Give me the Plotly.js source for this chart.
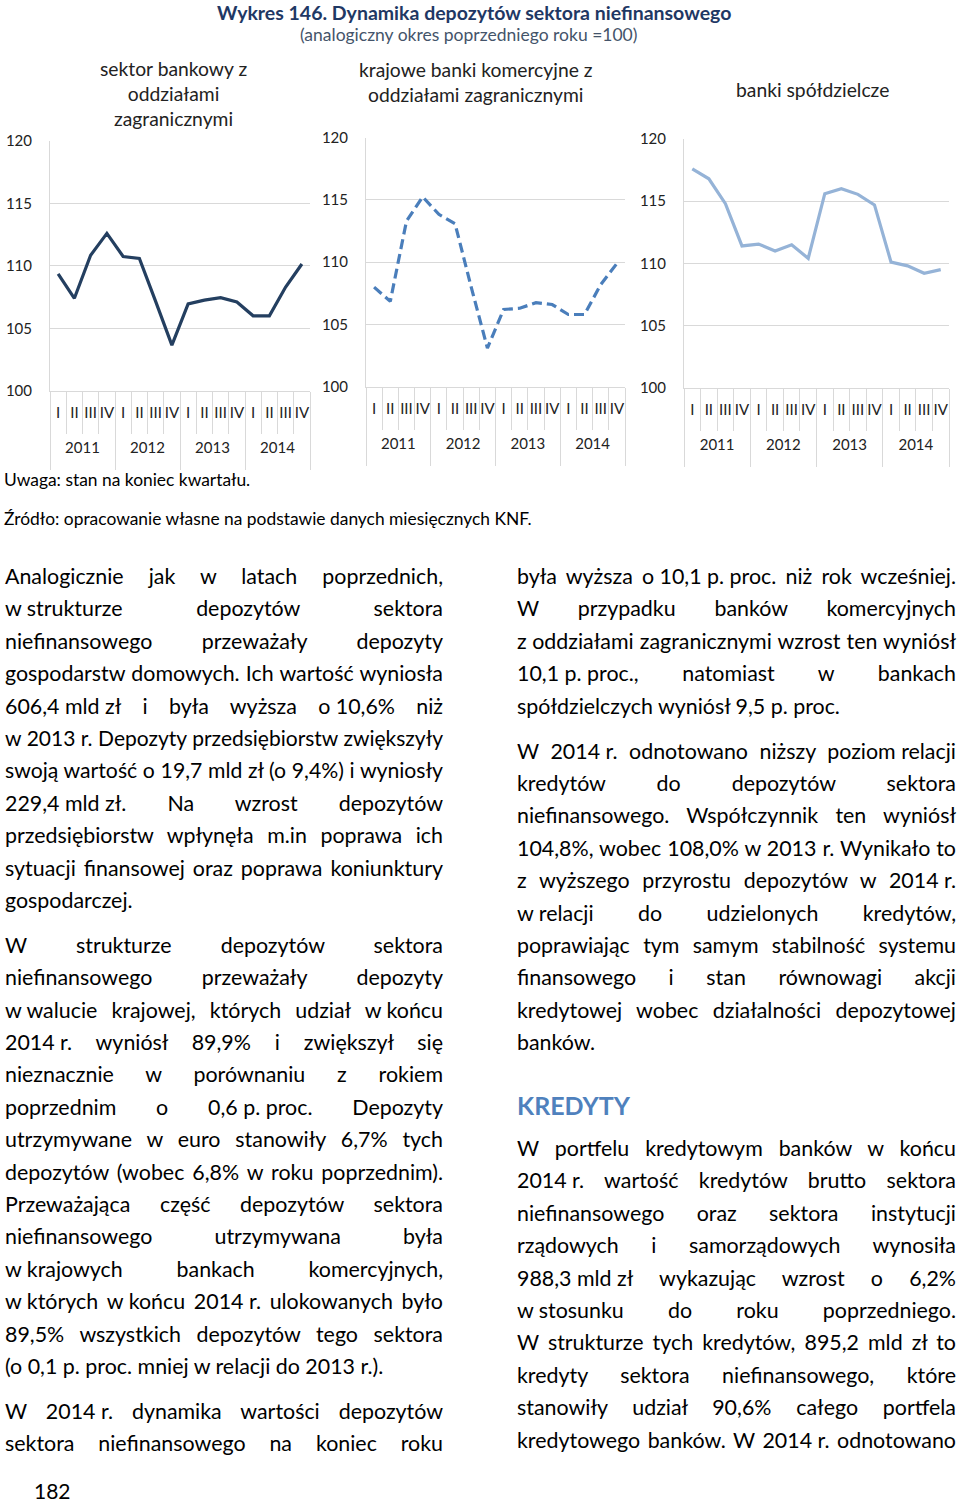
<!DOCTYPE html>
<html><head><meta charset="utf-8">
<script src="https://cdn.plot.ly/plotly-3.0.1.min.js"></script>
<style>
html,body{margin:0;padding:0;background:#fff}
body{width:960px;height:1501px;position:relative;overflow:hidden;font-family:Lato,"Open Sans",sans-serif;color:#000}
#chart{position:absolute;left:0;top:0;width:960px;height:540px}
.col{position:absolute;font-size:21.4px;line-height:32.4px}
.col div{text-align:justify;text-align-last:justify;height:32.4px}
.col div.e{text-align:left;text-align-last:left}
.nb{display:inline-block;white-space:nowrap}
.gap{margin-top:12.6px}
#kred{position:absolute;left:517px;top:1088px;font-size:25px;font-weight:bold;color:#4F81BD;line-height:34px}
#page{position:absolute;left:34px;top:1476px;font-size:21px;line-height:30px}
</style>
</head><body>
<div id="chart"></div>

<div class="col" style="left:5px;top:560px;width:438px">
<div>Analogicznie jak w latach poprzednich,</div>
<div><span class="nb">w strukturze</span> depozytów sektora</div>
<div>niefinansowego przeważały depozyty</div>
<div>gospodarstw domowych. Ich wartość wyniosła</div>
<div><span class="nb">606,4 mld zł</span> i była wyższa <span class="nb">o 10,6%</span> niż</div>
<div>w <span class="nb">2013 r.</span> Depozyty przedsiębiorstw zwiększyły</div>
<div>swoją wartość o 19,7 mld zł (o 9,4%) i wyniosły</div>
<div><span class="nb">229,4 mld zł.</span> Na wzrost depozytów</div>
<div>przedsiębiorstw wpłynęła m.in poprawa ich</div>
<div>sytuacji finansowej oraz poprawa koniunktury</div>
<div class="e">gospodarczej.</div>
<div class="gap">W strukturze depozytów sektora</div>
<div>niefinansowego przeważały depozyty</div>
<div><span class="nb">w walucie</span> krajowej, których udział <span class="nb">w końcu</span></div>
<div><span class="nb">2014 r.</span> wyniósł 89,9% i zwiększył się</div>
<div>nieznacznie w porównaniu z rokiem</div>
<div>poprzednim o <span class="nb">0,6 p. proc.</span> Depozyty</div>
<div>utrzymywane w euro stanowiły 6,7% tych</div>
<div>depozytów (wobec 6,8% w roku poprzednim).</div>
<div>Przeważająca część depozytów sektora</div>
<div>niefinansowego utrzymywana była</div>
<div><span class="nb">w krajowych</span> bankach komercyjnych,</div>
<div><span class="nb">w których</span> <span class="nb">w końcu</span> <span class="nb">2014 r.</span> ulokowanych było</div>
<div>89,5% wszystkich depozytów tego sektora</div>
<div class="e">(o 0,1 p. proc. mniej w relacji do 2013 r.).</div>
<div class="gap">W <span class="nb">2014 r.</span> dynamika wartości depozytów</div>
<div>sektora niefinansowego na koniec roku</div>
</div>

<div class="col" style="left:517px;top:560px;width:439px">
<div>była wyższa <span class="nb">o 10,1 p. proc.</span> niż rok wcześniej.</div>
<div>W przypadku banków komercyjnych</div>
<div><span class="nb">z oddziałami</span> zagranicznymi wzrost ten wyniósł</div>
<div><span class="nb">10,1 p. proc.,</span> natomiast w bankach</div>
<div class="e">spółdzielczych wyniósł 9,5 p. proc.</div>
<div class="gap">W <span class="nb">2014 r.</span> odnotowano niższy <span class="nb">poziom relacji</span></div>
<div>kredytów do depozytów sektora</div>
<div>niefinansowego. Współczynnik ten wyniósł</div>
<div>104,8%, wobec 108,0% w 2013 r. Wynikało to</div>
<div>z wyższego przyrostu depozytów w <span class="nb">2014 r.</span></div>
<div><span class="nb">w relacji</span> do udzielonych kredytów,</div>
<div>poprawiając tym samym stabilność systemu</div>
<div>finansowego i stan równowagi akcji</div>
<div>kredytowej wobec działalności depozytowej</div>
<div class="e">banków.</div>
</div>

<div id="kred">KREDYTY</div>

<div class="col" style="left:517px;top:1132px;width:439px">
<div>W portfelu kredytowym banków w końcu</div>
<div><span class="nb">2014 r.</span> wartość kredytów brutto sektora</div>
<div>niefinansowego oraz sektora instytucji</div>
<div>rządowych i samorządowych wynosiła</div>
<div><span class="nb">988,3 mld zł</span> wykazując wzrost o 6,2%</div>
<div><span class="nb">w stosunku</span> do roku poprzedniego.</div>
<div>W strukturze tych kredytów, 895,2 mld zł to</div>
<div>kredyty sektora niefinansowego, które</div>
<div>stanowiły udział 90,6% całego portfela</div>
<div>kredytowego banków. W <span class="nb">2014 r.</span> odnotowano</div>
</div>

<div id="page">182</div>

<script>
// ---- data ----
const years = ['2011', '2012', '2013', '2014'];
const quarters = ['I', 'II', 'III', 'IV'];
const sektorBankowy = [109.35, 107.4, 110.85, 112.6, 110.75, 110.6, 107.15, 103.65, 106.95, 107.25, 107.45, 107.1, 106.0, 106.0, 108.3, 110.15];
const krajoweBankiKomercyjne = [108.0, 106.85, 113.3, 115.25, 113.85, 113.1, 108.0, 103.1, 106.2, 106.3, 106.75, 106.6, 105.8, 105.8, 108.2, 109.9];
const bankiSpoldzielcze = [117.6, 116.8, 114.8, 111.4, 111.55, 111.0, 111.5, 110.4, 115.6, 116.0, 115.55, 114.7, 110.1, 109.8, 109.2, 109.5];
const panelTitles = ['sektor bankowy z<br>oddziałami<br>zagranicznymi', 'krajowe banki komercyjne z<br>oddziałami zagranicznymi', 'banki spółdzielcze'];
const yTicks = [100, 105, 110, 115, 120];

// ---- build ----
const W = 960, H = 540;
const px = v => v / W;
const py = v => 1 - v / H;

const quarterText = [], idx = [];
years.forEach((y, yi) => quarters.forEach((q, qi) => { quarterText.push(q); idx.push(yi * quarters.length + qi); }));
const nQ = quarters.length;
const sepVals = idx.slice(0, -1).map(i => i + 0.5);
const divVals = [-0.5].concat(years.map((y, yi) => (yi + 1) * nQ - 0.5));
const yearVals = years.map((y, yi) => yi * nQ + (nQ - 1) / 2);
const xRange = [-0.5, idx.length - 0.5];

const FONT = 'Lato, "Open Sans", sans-serif';
const grid = '#D9D9D9';
const tickFont = {family: FONT, size: 15, color: '#222'};

const panels = [
  {vals: sektorBankowy, color: '#243F60', dash: 'solid', xd: [50, 310], yd: [141, 390.7], title: panelTitles[0], tx: 173, ty: 94},
  {vals: krajoweBankiKomercyjne, color: '#4A7EBB', dash: '10px,5px', xd: [366, 625], yd: [137.7, 386.7], title: panelTitles[1], tx: 476, ty: 82},
  {vals: bankiSpoldzielcze, color: '#95B3D7', dash: 'solid', xd: [684, 949], yd: [139, 387.7], title: panelTitles[2], tx: 812, ty: 90}
];

const traces = [];
const layout = {
  width: W, height: H,
  margin: {l: 0, r: 0, t: 0, b: 0},
  paper_bgcolor: '#fff', plot_bgcolor: '#fff',
  showlegend: false,
  font: {family: FONT, size: 15, color: '#222'},
  annotations: []
};

let extra = 4;
function overlayAxis(xid, yid, spec) {
  const id = extra++;
  layout['xaxis' + id] = Object.assign({anchor: yid, overlaying: xid, side: 'bottom', showline: false,
    showgrid: false, zeroline: false, fixedrange: true, range: xRange}, spec);
  // empty carrier trace so that the overlay axis is drawn
  traces.push({type: 'scatter', mode: 'lines', x: [], y: [], xaxis: 'x' + id, yaxis: yid, hoverinfo: 'skip', showlegend: false});
}

panels.forEach((p, i) => {
  const n = i === 0 ? '' : String(i + 1);
  const xid = 'x' + n, yid = 'y' + n;
  traces.push({
    type: 'scatter', mode: 'lines',
    x: idx, y: p.vals,
    xaxis: xid, yaxis: yid,
    line: {color: p.color, width: 3.2, dash: p.dash},
    hoverinfo: 'skip'
  });
  const xDom = [px(p.xd[0]), px(p.xd[1])];
  const yDom = [py(p.yd[1]), py(p.yd[0])];
  layout['xaxis' + n] = {
    domain: xDom, range: xRange, fixedrange: true, showgrid: false, zeroline: false,
    anchor: yid, tickmode: 'array', tickvals: idx, ticktext: quarterText, tickangle: 0,
    showline: true, linecolor: grid, linewidth: 1, ticks: '',
    tickfont: tickFont, ticklabelstandoff: 8
  };
  overlayAxis(xid, yid, {domain: xDom, tickmode: 'array', tickvals: sepVals, showticklabels: false,
    ticks: 'outside', ticklen: 42, tickwidth: 1, tickcolor: grid});
  overlayAxis(xid, yid, {domain: xDom, tickmode: 'array', tickvals: divVals, showticklabels: false,
    ticks: 'outside', ticklen: 78, tickwidth: 1, tickcolor: grid});
  overlayAxis(xid, yid, {domain: xDom, tickmode: 'array', tickvals: yearVals, ticktext: years, tickangle: 0,
    ticks: '', tickfont: tickFont, ticklabelstandoff: 46});
  layout['yaxis' + n] = {
    domain: yDom, anchor: xid, range: [100, 120],
    tickmode: 'array', tickvals: yTicks, ticktext: yTicks.map(String),
    showline: true, linecolor: grid, linewidth: 1,
    showgrid: true, gridcolor: grid, gridwidth: 1, zeroline: false, ticks: '',
    ticklabelstandoff: 14, tickfont: tickFont, fixedrange: true
  };
  layout.annotations.push({
    xref: 'paper', yref: 'paper', x: px(p.tx), y: py(p.ty),
    xanchor: 'center', yanchor: 'middle', showarrow: false,
    text: p.title, font: {family: FONT, size: 19.3, color: '#222'}
  });
});

layout.annotations.push(
  {xref: 'paper', yref: 'paper', x: px(474), y: py(12), xanchor: 'center', yanchor: 'middle', showarrow: false,
   text: '<b>Wykres 146. Dynamika depozytów sektora niefinansowego</b>', font: {family: FONT, size: 19.5, color: '#1F3864'}},
  {xref: 'paper', yref: 'paper', x: px(468), y: py(34), xanchor: 'center', yanchor: 'middle', showarrow: false,
   text: '(analogiczny okres poprzedniego roku =100)', font: {family: FONT, size: 17.5, color: '#44546A'}},
  {xref: 'paper', yref: 'paper', x: px(2), y: py(479), xanchor: 'left', yanchor: 'middle', showarrow: false,
   text: 'Uwaga: stan na koniec kwartału.', font: {family: FONT, size: 17.4, color: '#000'}},
  {xref: 'paper', yref: 'paper', x: px(2), y: py(518), xanchor: 'left', yanchor: 'middle', showarrow: false,
   text: 'Źródło: opracowanie własne na podstawie danych miesięcznych KNF.', font: {family: FONT, size: 17.4, color: '#000'}}
);

Plotly.newPlot('chart', traces, layout, {staticPlot: true, displayModeBar: false});

// keep every justified line on one line
function fitLines() {
  document.querySelectorAll('.col div').forEach(el => {
    let fs = parseFloat(getComputedStyle(el).fontSize);
    while (el.scrollHeight > 34 && fs > 16) { fs -= 0.2; el.style.fontSize = fs + 'px'; }
  });
}
fitLines();
if (document.fonts && document.fonts.ready) document.fonts.ready.then(fitLines);
</script>
</body></html>
